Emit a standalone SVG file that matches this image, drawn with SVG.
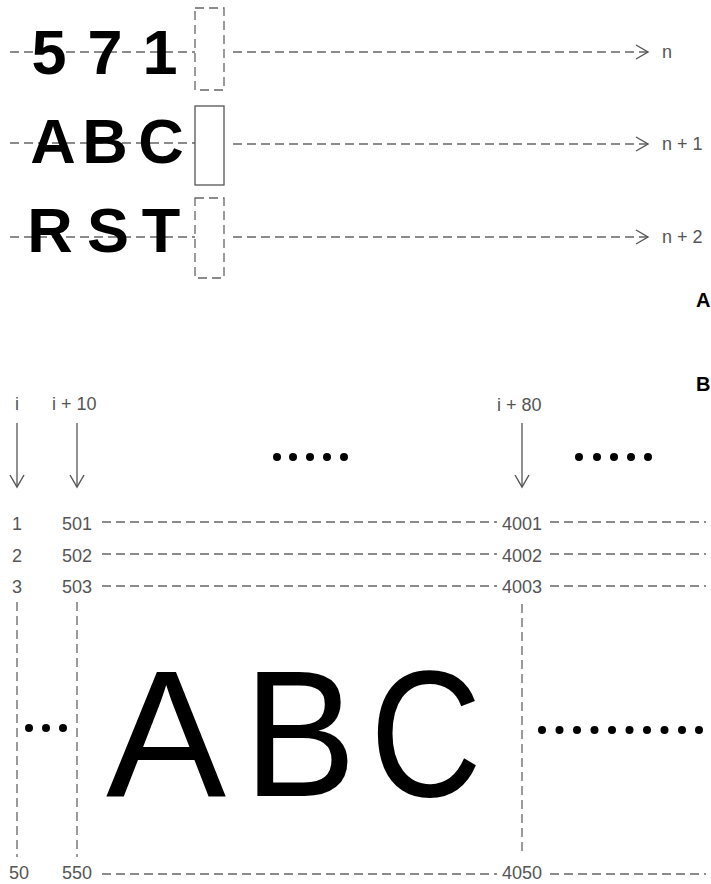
<svg xmlns="http://www.w3.org/2000/svg" width="711" height="884" viewBox="0 0 711 884">
<style>
.big{font-family:"Liberation Sans",Arial,sans-serif;font-weight:bold;font-size:63px;fill:#000;text-anchor:middle}
.huge{font-family:"Liberation Sans",Arial,sans-serif;font-size:180px;fill:#000;text-anchor:middle}
.lbl{font-family:"Liberation Sans",Arial,sans-serif;font-size:18px;fill:#555}
.mid{text-anchor:middle}
.tag{font-family:"Liberation Sans",Arial,sans-serif;font-weight:bold;font-size:20px;fill:#000}
.dash{stroke:#666;stroke-width:1.3;stroke-dasharray:9 5;fill:none}
.solid{stroke:#555;stroke-width:1.3;fill:none}
.dot{fill:#000}
</style>
<defs>
<marker id="ah" markerUnits="userSpaceOnUse" markerWidth="16" markerHeight="18" refX="13" refY="8" orient="auto">
<path d="M1,1 L13,8 L1,15" fill="none" stroke="#555" stroke-width="1.4"/>
</marker>
</defs>
<rect width="711" height="884" fill="#fff"/>

<g id="connectors">
<line class="dash" x1="10" y1="52" x2="195" y2="52"/>
<line class="dash" x1="10" y1="143" x2="195" y2="143"/>
<line class="dash" x1="10" y1="237" x2="195" y2="237"/>
<line class="dash" x1="233" y1="52" x2="648" y2="52" marker-end="url(#ah)"/>
<line class="dash" x1="233" y1="144" x2="648" y2="144" marker-end="url(#ah)"/>
<line class="dash" x1="233" y1="237" x2="648" y2="237" marker-end="url(#ah)"/>
<line class="solid" x1="17" y1="423" x2="17" y2="487" marker-end="url(#ah)"/>
<line class="solid" x1="77" y1="423" x2="77" y2="487" marker-end="url(#ah)"/>
<line class="solid" x1="522" y1="423" x2="522" y2="487" marker-end="url(#ah)"/>
<line class="dash" x1="102" y1="522" x2="497" y2="522"/>
<line class="dash" x1="550" y1="522" x2="706" y2="522"/>
<line class="dash" x1="102" y1="554" x2="497" y2="554"/>
<line class="dash" x1="550" y1="554" x2="706" y2="554"/>
<line class="dash" x1="102" y1="586" x2="497" y2="586"/>
<line class="dash" x1="550" y1="586" x2="706" y2="586"/>
<line class="dash" x1="102" y1="874" x2="497" y2="874"/>
<line class="dash" x1="550" y1="874" x2="706" y2="874"/>
<line class="dash" x1="17" y1="602" x2="17" y2="857"/>
<line class="dash" x1="77" y1="602" x2="77" y2="857"/>
<line class="dash" x1="522" y1="604" x2="522" y2="856"/>
</g>

<g id="row-n">
<text class="big" x="49" y="74">5</text>
<text class="big" x="105" y="74">7</text>
<text class="big" x="160" y="74">1</text>
<rect class="dash" x="195" y="8" width="29" height="82"/>
<text class="lbl" x="662" y="58">n</text>
</g>
<g id="row-n1">
<text class="big" x="53" y="163">A</text>
<text class="big" x="105" y="163">B</text>
<text class="big" x="161" y="163">C</text>
<rect class="solid" x="195" y="106" width="29" height="79"/>
<text class="lbl" x="662" y="150">n + 1</text>
</g>
<g id="row-n2">
<text class="big" x="50" y="252">R</text>
<text class="big" x="108" y="252">S</text>
<text class="big" x="161" y="252">T</text>
<rect class="dash" x="195" y="198" width="29" height="80"/>
<text class="lbl" x="662" y="243">n + 2</text>
</g>
<g id="tags">
<text class="tag" x="696" y="307">A</text>
<text class="tag" x="696" y="391">B</text>
</g>

<g id="col-i">
<text class="lbl mid" x="17" y="410">i</text>
<text class="lbl mid" x="17" y="530">1</text>
<text class="lbl mid" x="17" y="562">2</text>
<text class="lbl mid" x="17" y="593">3</text>
<text class="lbl mid" x="19" y="879">50</text>
</g>
<g id="col-i10">
<text class="lbl" x="52" y="410">i + 10</text>
<text class="lbl" x="62" y="530">501</text>
<text class="lbl" x="62" y="562">502</text>
<text class="lbl" x="62" y="593">503</text>
<text class="lbl" x="62" y="879">550</text>
</g>
<g id="col-i80">
<text class="lbl" x="497" y="411">i + 80</text>
<text class="lbl" x="502" y="530">4001</text>
<text class="lbl" x="502" y="562">4002</text>
<text class="lbl" x="502" y="593">4003</text>
<text class="lbl" x="502" y="879">4050</text>
</g>
<g id="ellipses">
<circle class="dot" cx="277" cy="457" r="4"/>
<circle class="dot" cx="293" cy="457" r="4"/>
<circle class="dot" cx="310" cy="457" r="4"/>
<circle class="dot" cx="327" cy="457" r="4"/>
<circle class="dot" cx="344" cy="457" r="4"/>
<circle class="dot" cx="579" cy="457" r="4"/>
<circle class="dot" cx="597" cy="457" r="4"/>
<circle class="dot" cx="614" cy="457" r="4"/>
<circle class="dot" cx="631" cy="457" r="4"/>
<circle class="dot" cx="648" cy="457" r="4"/>
<circle class="dot" cx="29" cy="728" r="4"/>
<circle class="dot" cx="46" cy="728" r="4"/>
<circle class="dot" cx="63" cy="728" r="4"/>
<circle class="dot" cx="542" cy="730" r="4"/>
<circle class="dot" cx="559.5" cy="730" r="4"/>
<circle class="dot" cx="577" cy="730" r="4"/>
<circle class="dot" cx="594.5" cy="730" r="4"/>
<circle class="dot" cx="612" cy="730" r="4"/>
<circle class="dot" cx="629.5" cy="730" r="4"/>
<circle class="dot" cx="647" cy="730" r="4"/>
<circle class="dot" cx="664.5" cy="730" r="4"/>
<circle class="dot" cx="682" cy="730" r="4"/>
<circle class="dot" cx="699" cy="730" r="4"/>
</g>
<g id="big-abc">
<text class="huge" x="166" y="796">A</text>
<text class="huge" transform="translate(300,0) scale(0.94,1)" x="0" y="796">B</text>
<text class="huge" transform="translate(426,0) scale(0.86,1)" x="0" y="796">C</text>
</g>
</svg>
